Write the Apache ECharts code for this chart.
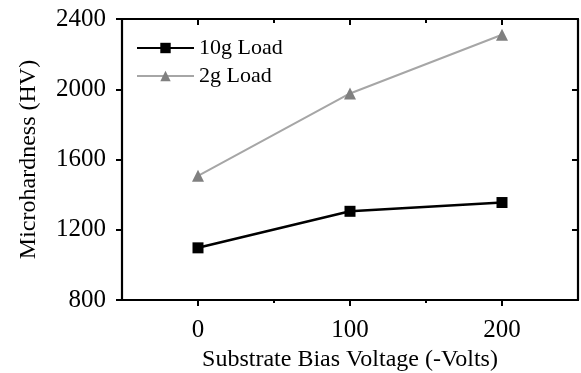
<!DOCTYPE html>
<html>
<head>
<meta charset="utf-8">
<script src="https://cdn.jsdelivr.net/npm/echarts@6/dist/echarts.min.js"></script>
<style>
  html, body { margin: 0; padding: 0; background: #fff; }
  #chart { width: 581px; height: 373px; }
</style>
</head>
<body>
<div id="chart"></div>
<script>
// Substrate bias voltage (-V) and measured microhardness (HV)
const biasVoltage = [0, 100, 200];
const load10g = [1097, 1305, 1355];
const load2g = [1507, 1976, 2310];
const seriesNames = ['10g Load', '2g Load'];

const xMajor = [0, 100, 200];
const xMinor = [50, 150];
const yTicks = [800, 1200, 1600, 2000, 2400];

const FONT = "'Liberation Serif', 'Times New Roman', serif";

const xRange = { min: -50, max: 250 };
const yRange = { min: 800, max: 2400, interval: 400 };

function pairs(xs, ys) {
  return xs.map((x, i) => [x, ys[i]]);
}

const hidden = { show: false };
const frameLine = { show: true, onZero: false, lineStyle: { color: '#000', width: 2.2 } };
const tickStyle = { color: '#000', width: 2 };
const plainNumber = v => String(v);

const chart = echarts.init(document.getElementById('chart'), null, { renderer: 'canvas' });

chart.setOption({
  animation: false,
  backgroundColor: '#ffffff',
  grid: { left: 122, right: 3, top: 19, bottom: 73, containLabel: false, outerBoundsMode: 'none' },
  legend: {
    orient: 'vertical',
    left: 131,
    top: 32,
    itemWidth: 57,
    itemHeight: 13,
    itemGap: 6,
    textStyle: { fontFamily: FONT, fontSize: 22, color: '#000' },
    data: seriesNames
  },
  xAxis: [
    {
      // bottom axis with major ticks and labels
      type: 'value', position: 'bottom', ...xRange,
      name: 'Substrate Bias Voltage (-Volts)',
      nameLocation: 'middle', nameGap: 47,
      nameTextStyle: { fontFamily: FONT, fontSize: 24, color: '#000' },
      axisLine: frameLine,
      axisTick: { show: true, inside: false, length: 6, customValues: xMajor, lineStyle: tickStyle },
      axisLabel: { show: true, customValues: xMajor, margin: 18, formatter: plainNumber, fontFamily: FONT, fontSize: 25, color: '#000' },
      splitLine: hidden
    },
    {
      // bottom minor ticks
      type: 'value', position: 'bottom', ...xRange,
      axisLine: { show: false, onZero: false },
      axisTick: { show: true, inside: false, length: 3, customValues: xMinor, lineStyle: tickStyle },
      axisLabel: hidden, splitLine: hidden
    },
    {
      // top frame with inward ticks
      type: 'value', position: 'top', ...xRange,
      axisLine: frameLine,
      axisTick: { show: true, inside: true, length: 6, customValues: xMajor, lineStyle: tickStyle },
      axisLabel: hidden, splitLine: hidden
    },
    {
      type: 'value', position: 'top', ...xRange,
      axisLine: { show: false, onZero: false },
      axisTick: { show: true, inside: true, length: 4, customValues: xMinor, lineStyle: tickStyle },
      axisLabel: hidden, splitLine: hidden
    }
  ],
  yAxis: [
    {
      type: 'value', position: 'left', ...yRange,
      name: 'Microhardness (HV)',
      nameLocation: 'middle', nameGap: 81,
      nameTextStyle: { fontFamily: FONT, fontSize: 24, color: '#000' },
      axisLine: frameLine,
      axisTick: { show: true, inside: false, length: 6, customValues: yTicks, lineStyle: tickStyle },
      axisLabel: { show: true, customValues: yTicks, margin: 16, formatter: plainNumber, fontFamily: FONT, fontSize: 25, color: '#000' },
      splitLine: hidden
    },
    {
      type: 'value', position: 'right', ...yRange,
      axisLine: frameLine,
      axisTick: { show: true, inside: true, length: 6, customValues: yTicks, lineStyle: tickStyle },
      axisLabel: hidden, splitLine: hidden
    }
  ],
  series: [
    {
      name: seriesNames[0],
      type: 'line',
      xAxisIndex: 0, yAxisIndex: 0,
      data: pairs(biasVoltage, load10g),
      symbol: 'rect', symbolSize: 11,
      lineStyle: { color: '#000', width: 2.5 },
      itemStyle: { color: '#000' },
      z: 3
    },
    {
      name: seriesNames[1],
      type: 'line',
      xAxisIndex: 0, yAxisIndex: 0,
      data: pairs(biasVoltage, load2g),
      symbol: 'triangle', symbolSize: 12,
      lineStyle: { color: '#a6a6a6', width: 2 },
      itemStyle: { color: '#808080' },
      z: 2
    }
  ]
});
</script>
</body>
</html>
